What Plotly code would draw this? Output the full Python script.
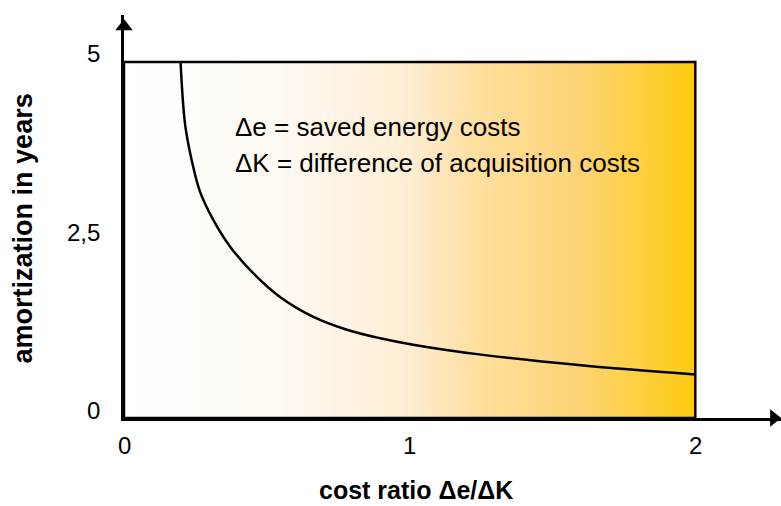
import plotly.graph_objects as go

# Data
curve_x = [0.198, 0.214, 0.237, 0.266, 0.313, 0.371, 0.453, 0.546, 0.663, 0.780, 0.897, 1.012, 1.25, 1.6, 2.0]
curve_y = [5.0, 4.12, 3.62, 3.18, 2.78, 2.41, 2.03, 1.70, 1.42, 1.24, 1.12, 1.03, 0.89, 0.74, 0.61]

x_ticks = [0, 1, 2]
x_tick_labels = ["0", "1", "2"]
y_ticks = [0, 2.5, 5]
y_tick_labels = ["0", "2,5", "5"]

x_title = "<b>cost ratio Δe/ΔK</b>"
y_title = "<b>amortization in years</b>"
legend_lines = ["Δe = saved energy costs", "ΔK = difference of acquisition costs"]

X_MAX, Y_MAX = 2, 5
X_RANGE = [0, 2.3]
Y_RANGE = [0, 5.66]

# gradient background (styling only)
n_cols = 200
grad_edges = [X_MAX * i / n_cols for i in range(n_cols + 1)]
grad_z = [list(range(n_cols))]
grad_colors = [
    [0.0, "#ffffff"], [0.3, "#fef8f0"], [0.5, "#feedd2"],
    [0.62, "#fedf9e"], [0.8, "#fdd475"], [1.0, "#ffcb10"],
]

fig = go.Figure()
fig.add_trace(go.Heatmap(
    z=grad_z, x=grad_edges, y=[0, Y_MAX],
    colorscale=grad_colors, showscale=False, hoverinfo="skip",
))
fig.add_trace(go.Scatter(
    x=curve_x, y=curve_y, mode="lines", line=dict(color="black", width=2.5, shape="spline", smoothing=1.0),
    hoverinfo="skip", showlegend=False,
))
# axis arrows
fig.add_trace(go.Scatter(
    x=[0], y=[5.5], mode="markers", marker=dict(symbol="triangle-up", size=15, color="black"),
    cliponaxis=False, showlegend=False, hoverinfo="skip",
))
fig.add_trace(go.Scatter(
    x=[2.275], y=[0], mode="markers", marker=dict(symbol="triangle-right", size=15, color="black"),
    cliponaxis=False, showlegend=False, hoverinfo="skip",
))

fig.add_shape(type="rect", x0=0, x1=X_MAX, y0=0, y1=Y_MAX, line=dict(color="black", width=2.5), layer="above")

FAM = "Liberation Sans, Arial, sans-serif"
font_tick = dict(family=FAM, size=24, color="black")
ann = []
for v, t in zip(x_ticks, x_tick_labels):
    ann.append(dict(x=v, y=0, text=t, showarrow=False, yshift=-27, font=font_tick, xanchor="center", yanchor="middle"))
for v, t in zip(y_ticks, y_tick_labels):
    ann.append(dict(x=0, y=v, text=t, showarrow=False, xshift=-22, yshift=8, font=font_tick, xanchor="right", yanchor="middle"))

font_note = dict(family=FAM, size=26, color="black")
ann.append(dict(x=0.382, y=4.09, text=legend_lines[0], showarrow=False, xanchor="left", yanchor="middle", font=font_note))
ann.append(dict(x=0.382, y=3.58, text=legend_lines[1], showarrow=False, xanchor="left", yanchor="middle", font=font_note))

ann.append(dict(xref="paper", yref="paper", x=0.444, y=-0.179, text=x_title, showarrow=False, borderpad=0,
                xanchor="center", yanchor="middle", font=dict(family=FAM, size=25, color="black")))
ann.append(dict(xref="paper", yref="paper", x=-0.154, y=0.47, text=y_title, showarrow=False, textangle=-90,
                xanchor="center", yanchor="middle", font=dict(family=FAM, size=27, color="black")))

fig.update_layout(
    width=781, height=506,
    margin=dict(l=124, r=0, t=15, b=88),
    paper_bgcolor="white", plot_bgcolor="white",
    showlegend=False,
    annotations=ann,
    xaxis=dict(range=X_RANGE, showgrid=False, zeroline=False, showticklabels=False, ticks="",
               showline=True, linecolor="black", linewidth=2.5, fixedrange=True),
    yaxis=dict(range=Y_RANGE, showgrid=False, zeroline=False, showticklabels=False, ticks="",
               showline=True, linecolor="black", linewidth=2.5, fixedrange=True),
)

fig.write_html("out.html", config={"displayModeBar": False},
               post_script="document.body.style.margin='0';")
